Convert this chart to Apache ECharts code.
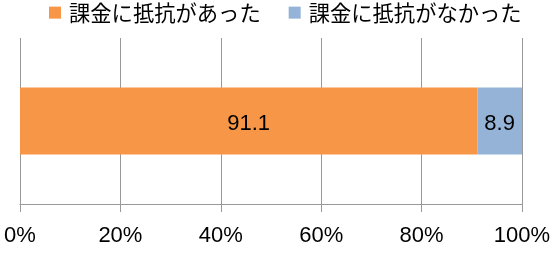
<!DOCTYPE html>
<html><head><meta charset="utf-8">
<script src="https://cdn.jsdelivr.net/npm/echarts@6/dist/echarts.min.js"></script>
<style>html,body{margin:0;padding:0;background:#fff}#c{width:557px;height:255px}</style>
</head><body><div id="c"></div>
<script>
const categories = ['回答'];
const seriesNames = ['課金に抵抗があった', '課金に抵抗がなかった'];
const hadResistance = [91.1];
const noResistance = [8.9];
const tickValues = [0, 20, 40, 60, 80, 100];

const chart = echarts.init(document.getElementById('c'));
chart.setOption({
  animation: false,
  legend: {
    top: 0, left: 49, padding: [2, 0, 0, 0],
    itemWidth: 12, itemHeight: 12, itemGap: 28,
    textStyle: { fontFamily: 'Noto Sans CJK JP', fontSize: 21.3, color: '#000', padding: [0, 0, 0, 3] },
    icon: 'rect',
    data: seriesNames
  },
  grid: { left: 20, right: 35, top: 38, bottom: 51 },
  xAxis: {
    type: 'value', min: 0, max: 100, interval: 20,
    axisLine: { show: true, lineStyle: { color: '#999' } },
    axisTick: { show: true, length: 8, lineStyle: { color: '#999' } },
    splitLine: { show: true, lineStyle: { color: '#999' } },
    axisLabel: { formatter: v => v + '%', fontFamily: 'Liberation Sans', fontSize: 22, color: '#000', margin: 21 }
  },
  yAxis: {
    type: 'category', data: categories,
    axisLine: { show: false }, axisTick: { show: false }, axisLabel: { show: false }
  },
  series: [
    { name: seriesNames[0], type: 'bar', stack: 'a', data: hadResistance, barWidth: 67,
      itemStyle: { color: '#F79646' },
      label: { show: true, position: 'inside', offset: [0, 3], fontFamily: 'Liberation Sans', fontSize: 22, color: '#000', formatter: p => p.value.toFixed(1) } },
    { name: seriesNames[1], type: 'bar', stack: 'a', data: noResistance, barWidth: 67,
      itemStyle: { color: '#95B3D7' },
      label: { show: true, position: 'inside', offset: [0, 3], fontFamily: 'Liberation Sans', fontSize: 22, color: '#000', formatter: p => p.value.toFixed(1) } }
  ]
});
</script></body></html>
